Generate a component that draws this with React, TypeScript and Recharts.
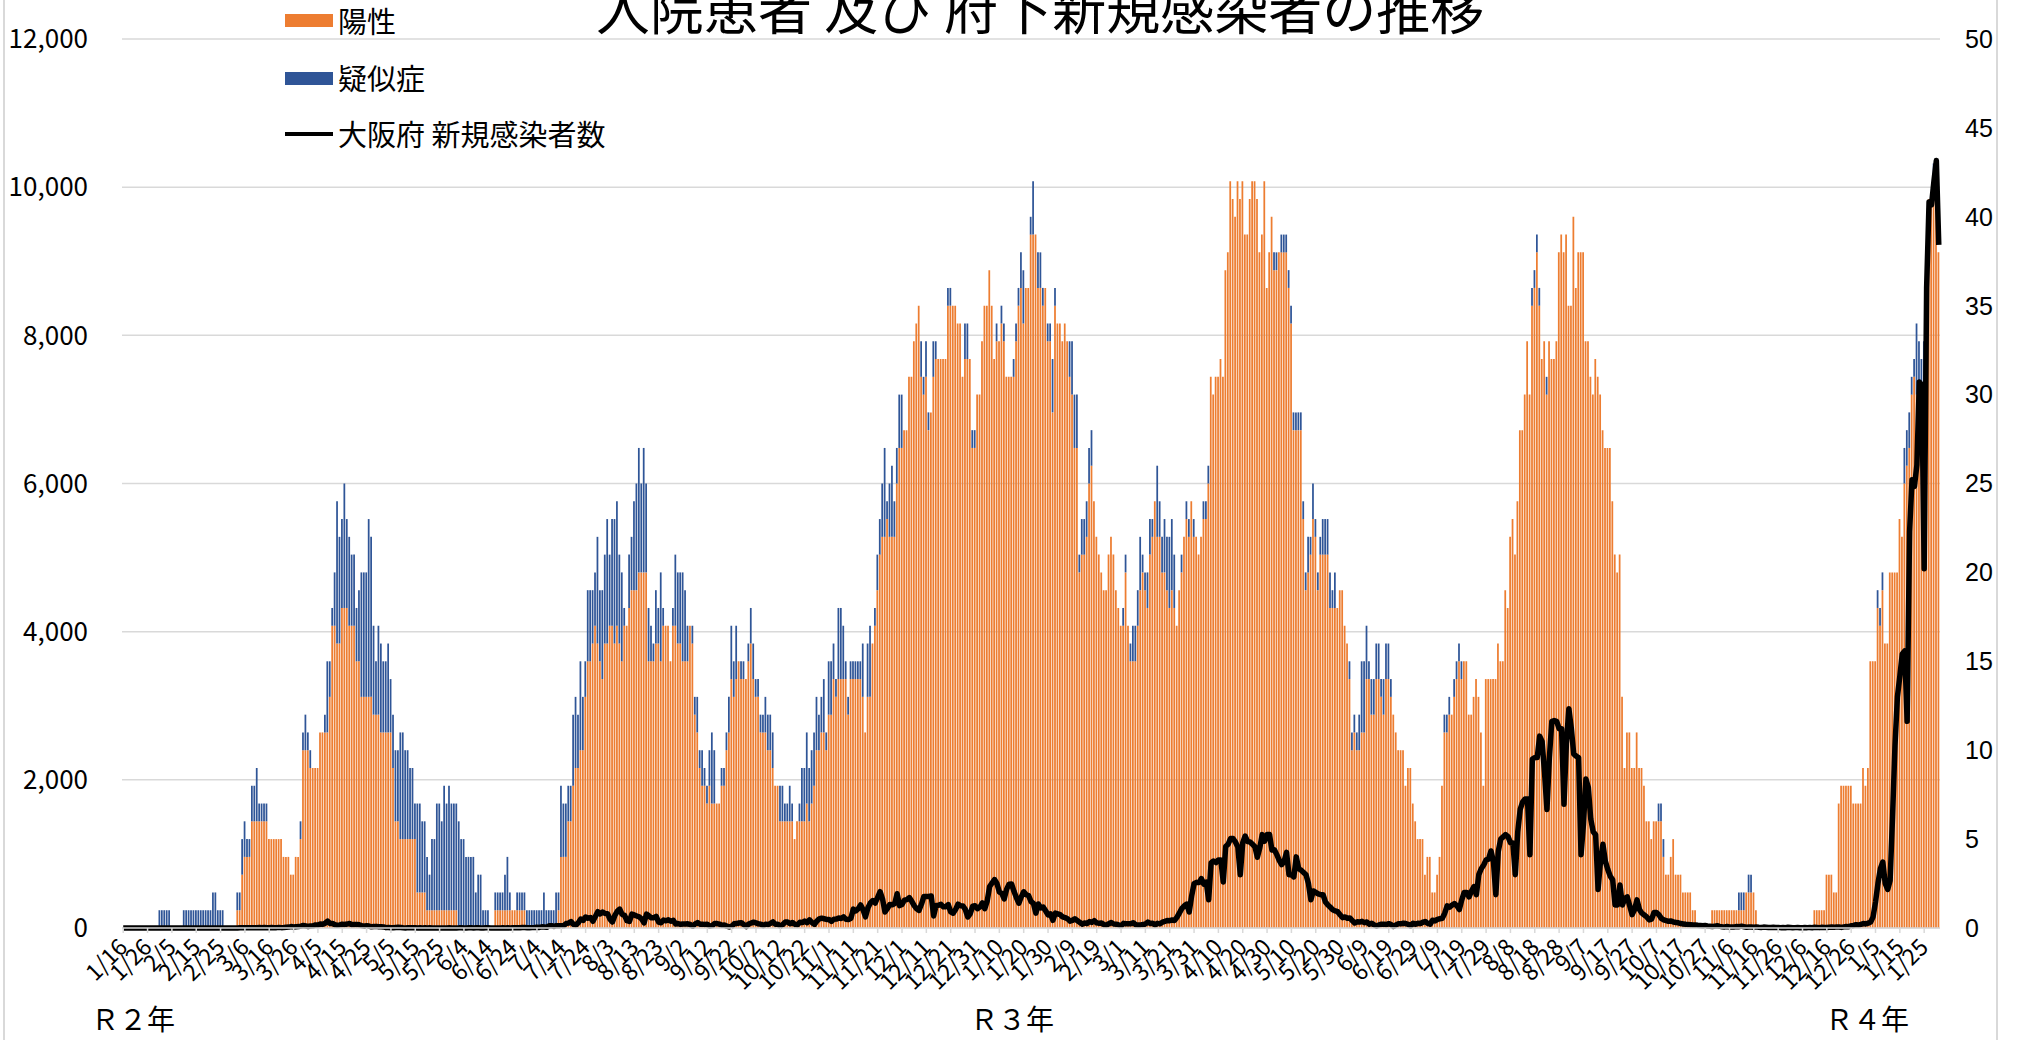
import { ComposedChart, Bar, Line, XAxis, YAxis, CartesianGrid } from "recharts";

const JP = '"Noto Sans CJK JP", "Noto Sans", sans-serif';

// x-axis labels, one every 10 days (R2 1/16 ... R4 1/25)
const TICK_LABELS = [
  "1/16", "1/26", "2/5", "2/15", "2/25", "3/6", "3/16", "3/26", "4/5", "4/15",
  "4/25", "5/5", "5/15", "5/25", "6/4", "6/14", "6/24", "7/4", "7/14", "7/24",
  "8/3", "8/13", "8/23", "9/2", "9/12", "9/22", "10/2", "10/12", "10/22", "11/1",
  "11/11", "11/21", "12/1", "12/11", "12/21", "12/31", "1/10", "1/20", "1/30", "2/9",
  "2/19", "3/1", "3/11", "3/21", "3/31", "4/10", "4/20", "4/30", "5/10", "5/20",
  "5/30", "6/9", "6/19", "6/29", "7/9", "7/19", "7/29", "8/8", "8/18", "8/28",
  "9/7", "9/17", "9/27", "10/7", "10/17", "10/27", "11/6", "11/16", "11/26", "12/6",
  "12/16", "12/26", "1/5", "1/15", "1/25",
];

const YEAR_LABELS = [
  { text: "Ｒ２年", left: 91 },
  { text: "Ｒ３年", left: 970 },
  { text: "Ｒ４年", left: 1825 },
];

const LEFT_TICKS = [0, 2000, 4000, 6000, 8000, 10000, 12000];
const RIGHT_TICKS = [0, 5, 10, 15, 20, 25, 30, 35, 40, 45, 50];

// 入院患者 陽性 (right axis), daily, 10 per row
const POSITIVE = [
  0, 0, 0, 0, 0, 0, 0, 0, 0, 0, // 1/16
  0, 0, 0, 0, 0, 0, 0, 0, 0, 0, // 1/26
  0, 0, 0, 0, 0, 0, 0, 0, 0, 0, // 2/5
  0, 0, 0, 0, 0, 0, 0, 0, 0, 0, // 2/15
  0, 0, 0, 0, 0, 0, 0, 1, 1, 3, // 2/25
  4, 4, 4, 6, 6, 6, 6, 6, 6, 6, // 3/6
  5, 5, 5, 5, 5, 5, 4, 4, 4, 3, // 3/16
  3, 4, 4, 5, 10, 10, 10, 9, 9, 9, // 3/26
  9, 11, 11, 11, 11, 13, 17, 17, 16, 16, // 4/5
  18, 18, 18, 17, 17, 17, 15, 15, 13, 13, // 4/15
  13, 13, 13, 12, 12, 12, 11, 11, 11, 11, // 4/25
  11, 9, 6, 6, 5, 5, 5, 5, 5, 5, // 5/5
  5, 2, 2, 2, 2, 1, 1, 1, 1, 1, // 5/15
  1, 1, 1, 1, 1, 1, 1, 1, 0, 0, // 5/25
  0, 0, 0, 0, 0, 0, 0, 0, 0, 0, // 6/4
  0, 0, 0, 1, 1, 1, 1, 1, 1, 1, // 6/14
  1, 1, 1, 1, 1, 1, 0, 0, 0, 0, // 6/24
  0, 0, 0, 0, 0, 0, 0, 0, 0, 1, // 7/4
  4, 4, 4, 6, 6, 8, 9, 9, 10, 10, // 7/14
  13, 15, 15, 16, 17, 16, 15, 14, 16, 16, // 7/24
  17, 17, 16, 17, 16, 15, 17, 17, 18, 19, // 8/3
  19, 19, 20, 20, 20, 20, 15, 15, 15, 16, // 8/13
  16, 15, 17, 17, 17, 15, 17, 17, 16, 16, // 8/23
  15, 15, 15, 17, 16, 12, 11, 9, 8, 8, // 9/2
  7, 8, 7, 7, 7, 7, 8, 8, 10, 11, // 9/12
  14, 13, 14, 15, 14, 14, 14, 15, 16, 14, // 9/22
  13, 13, 11, 11, 11, 10, 10, 9, 8, 8, // 10/2
  6, 6, 6, 6, 6, 6, 5, 6, 6, 6, // 10/12
  6, 7, 6, 7, 8, 10, 10, 11, 11, 10, // 10/22
  12, 12, 14, 13, 14, 14, 14, 14, 12, 14, // 11/1
  14, 14, 14, 14, 13, 11, 13, 13, 16, 17, // 11/11
  19, 21, 22, 22, 23, 22, 22, 22, 25, 27, // 11/21
  27, 28, 28, 31, 31, 33, 34, 35, 31, 30, // 12/1
  31, 28, 29, 31, 32, 32, 32, 32, 32, 35, // 12/11
  35, 35, 35, 34, 34, 31, 32, 32, 32, 27, // 12/21
  27, 30, 30, 33, 35, 35, 37, 35, 32, 33, // 12/31
  33, 34, 33, 31, 31, 31, 31, 33, 35, 36, // 1/10
  34, 36, 36, 39, 39, 39, 36, 36, 35, 36, // 1/20
  33, 33, 29, 35, 34, 34, 33, 34, 33, 31, // 1/30
  30, 27, 27, 20, 21, 21, 22, 25, 26, 24, // 2/9
  22, 21, 20, 19, 19, 21, 22, 21, 19, 18, // 2/19
  17, 17, 20, 17, 15, 15, 15, 17, 19, 20, // 3/1
  19, 18, 21, 22, 24, 22, 22, 20, 20, 19, // 3/11
  18, 19, 18, 17, 19, 20, 22, 23, 22, 24, // 3/21
  22, 22, 21, 22, 23, 23, 25, 31, 30, 31, // 3/31
  31, 32, 31, 37, 38, 42, 41, 40, 42, 41, // 4/10
  42, 39, 39, 41, 42, 42, 41, 38, 39, 42, // 4/20
  36, 38, 40, 37, 37, 38, 38, 38, 38, 36, // 4/30
  34, 28, 28, 28, 28, 23, 19, 20, 21, 23, // 5/10
  22, 19, 21, 21, 21, 21, 18, 18, 18, 18, // 5/20
  19, 19, 17, 16, 14, 10, 11, 10, 10, 11, // 5/30
  11, 14, 14, 12, 12, 14, 14, 13, 12, 14, // 6/9
  14, 13, 12, 11, 10, 10, 10, 8, 9, 9, // 6/19
  7, 6, 5, 5, 5, 3, 4, 4, 2, 2, // 6/29
  3, 4, 8, 11, 11, 12, 12, 13, 14, 15, // 7/9
  14, 15, 15, 12, 12, 13, 14, 13, 11, 8, // 7/19
  14, 14, 14, 14, 14, 16, 15, 15, 19, 18, // 7/29
  22, 23, 21, 24, 28, 28, 30, 33, 30, 35, // 8/8
  36, 38, 35, 32, 33, 30, 33, 32, 32, 33, // 8/18
  38, 39, 38, 39, 35, 35, 40, 36, 38, 38, // 8/28
  38, 33, 33, 31, 30, 32, 31, 30, 28, 27, // 9/7
  27, 27, 24, 21, 20, 21, 13, 9, 11, 11, // 9/17
  9, 9, 11, 9, 9, 8, 6, 6, 5, 6, // 9/27
  6, 6, 6, 4, 3, 3, 4, 5, 3, 3, // 10/7
  3, 2, 2, 2, 2, 1, 1, 0, 0, 0, // 10/17
  0, 0, 0, 1, 1, 1, 1, 1, 1, 1, // 10/27
  1, 1, 1, 1, 1, 1, 1, 2, 2, 2, // 11/6
  2, 1, 0, 0, 0, 0, 0, 0, 0, 0, // 11/16
  0, 0, 0, 0, 0, 0, 0, 0, 0, 0, // 11/26
  0, 0, 0, 0, 0, 1, 1, 1, 1, 1, // 12/6
  3, 3, 3, 2, 2, 7, 8, 8, 8, 8, // 12/16
  8, 7, 7, 7, 7, 9, 8, 9, 15, 15, // 12/26
  15, 18, 17, 19, 16, 16, 20, 20, 20, 20, // 1/5
  23, 22, 25, 26, 27, 30, 31, 30, 30, 30, // 1/15
  30, 36, 41, 41, 42, 41, 38, // 1/25
];

// 入院患者 疑似症 (right axis, stacked on 陽性)
const SUSPECTED = [
  0, 0, 0, 0, 0, 0, 0, 0, 0, 0, // 1/16
  0, 0, 0, 0, 0, 1, 1, 1, 1, 1, // 1/26
  0, 0, 0, 0, 0, 1, 1, 1, 1, 1, // 2/5
  1, 1, 1, 1, 1, 1, 1, 2, 2, 1, // 2/15
  1, 1, 0, 0, 0, 0, 0, 1, 1, 2, // 2/25
  2, 1, 1, 2, 2, 3, 1, 1, 1, 1, // 3/6
  0, 0, 0, 0, 0, 0, 0, 0, 0, 0, // 3/16
  0, 0, 0, 1, 1, 2, 1, 1, 0, 0, // 3/26
  0, 0, 0, 1, 4, 2, 1, 3, 8, 6, // 4/5
  5, 7, 5, 5, 4, 4, 3, 4, 7, 7, // 4/15
  7, 10, 9, 5, 3, 5, 5, 4, 4, 5, // 4/25
  3, 3, 4, 4, 6, 6, 5, 5, 4, 4, // 5/5
  2, 5, 5, 4, 4, 3, 2, 4, 4, 6, // 5/15
  6, 5, 7, 6, 7, 6, 6, 6, 6, 5, // 5/25
  5, 4, 4, 4, 4, 2, 3, 3, 1, 1, // 6/4
  1, 0, 0, 1, 1, 1, 1, 2, 3, 1, // 6/14
  0, 0, 1, 1, 1, 1, 1, 1, 1, 1, // 6/24
  1, 1, 1, 2, 1, 1, 1, 1, 2, 1, // 7/4
  4, 3, 3, 2, 2, 4, 4, 3, 5, 3, // 7/14
  2, 4, 4, 3, 3, 6, 4, 5, 5, 7, // 7/24
  4, 6, 7, 7, 5, 5, 1, 0, 3, 3, // 8/3
  5, 6, 7, 5, 7, 5, 3, 2, 1, 3, // 8/13
  2, 5, 1, 0, 0, 0, 1, 4, 4, 4, // 8/23
  5, 4, 2, 0, 1, 1, 2, 1, 2, 1, // 9/2
  1, 2, 4, 3, 0, 0, 1, 1, 1, 2, // 9/12
  3, 2, 3, 0, 1, 1, 0, 1, 2, 2, // 9/22
  1, 1, 1, 1, 2, 2, 2, 2, 0, 0, // 10/2
  2, 2, 1, 1, 2, 1, 0, 0, 1, 3, // 10/12
  3, 4, 3, 3, 3, 3, 2, 2, 3, 1, // 10/22
  3, 3, 2, 1, 4, 4, 3, 1, 1, 1, // 11/1
  1, 1, 1, 1, 3, 0, 3, 4, 0, 1, // 11/11
  2, 2, 3, 5, 1, 3, 4, 2, 2, 3, // 11/21
  3, 0, 0, 0, 0, 0, 0, 0, 2, 1, // 12/1
  2, 1, 0, 2, 1, 0, 0, 0, 0, 1, // 12/11
  1, 0, 0, 0, 0, 0, 2, 2, 0, 1, // 12/21
  1, 0, 0, 0, 0, 0, 0, 0, 0, 1, // 12/31
  0, 1, 1, 0, 0, 0, 1, 1, 1, 2, // 1/10
  3, 0, 0, 1, 3, 0, 2, 2, 1, 0, // 1/20
  1, 1, 3, 1, 0, 0, 0, 0, 0, 2, // 1/30
  3, 3, 3, 1, 2, 2, 2, 2, 2, 0, // 2/9
  0, 0, 0, 0, 0, 0, 0, 0, 0, 0, // 2/19
  0, 1, 1, 0, 1, 2, 2, 2, 3, 1, // 3/1
  1, 2, 2, 1, 0, 4, 2, 2, 3, 3, // 3/11
  4, 4, 3, 0, 0, 1, 0, 1, 1, 0, // 3/21
  1, 0, 0, 0, 1, 1, 1, 0, 0, 0, // 3/31
  0, 0, 0, 0, 0, 0, 0, 0, 0, 0, // 4/10
  0, 0, 0, 0, 0, 0, 0, 0, 0, 0, // 4/20
  0, 0, 0, 1, 1, 0, 1, 1, 1, 1, // 4/30
  1, 1, 1, 1, 1, 1, 1, 2, 1, 2, // 5/10
  1, 1, 1, 2, 2, 2, 2, 1, 2, 0, // 5/20
  0, 0, 0, 0, 1, 1, 1, 1, 2, 4, // 5/30
  4, 3, 1, 2, 2, 2, 2, 1, 2, 2, // 6/9
  2, 1, 0, 0, 0, 0, 0, 0, 0, 0, // 6/19
  0, 0, 0, 0, 0, 0, 0, 0, 0, 0, // 6/29
  0, 0, 0, 1, 1, 1, 0, 1, 1, 1, // 7/9
  1, 0, 0, 0, 0, 0, 0, 0, 0, 0, // 7/19
  0, 0, 0, 0, 0, 0, 0, 0, 0, 0, // 7/29
  0, 0, 0, 0, 0, 0, 0, 0, 0, 1, // 8/8
  1, 1, 1, 0, 0, 1, 0, 0, 0, 0, // 8/18
  0, 0, 0, 0, 0, 0, 0, 0, 0, 0, // 8/28
  0, 0, 0, 0, 0, 0, 0, 0, 0, 0, // 9/7
  0, 0, 0, 0, 0, 0, 0, 0, 0, 0, // 9/17
  0, 0, 0, 0, 0, 0, 0, 0, 0, 0, // 9/27
  0, 1, 1, 1, 0, 0, 0, 0, 0, 0, // 10/7
  0, 0, 0, 0, 0, 0, 0, 0, 0, 0, // 10/17
  0, 0, 0, 0, 0, 0, 0, 0, 0, 0, // 10/27
  0, 0, 0, 0, 1, 1, 1, 0, 1, 1, // 11/6
  0, 0, 0, 0, 0, 0, 0, 0, 0, 0, // 11/16
  0, 0, 0, 0, 0, 0, 0, 0, 0, 0, // 11/26
  0, 0, 0, 0, 0, 0, 0, 0, 0, 0, // 12/6
  0, 0, 0, 0, 0, 0, 0, 0, 0, 0, // 12/16
  0, 0, 0, 0, 0, 0, 0, 0, 0, 0, // 12/26
  0, 1, 1, 1, 0, 0, 0, 0, 0, 0, // 1/5
  0, 0, 2, 2, 2, 1, 1, 4, 3, 2, // 1/15
  3, 0, 0, 0, 1, 1, 0, // 1/25
];

// 大阪府 新規感染者数 (left axis)
const NEW_CASES = [
  0, 0, 0, 0, 0, 0, 0, 0, 0, 0, // 1/16
  0, 0, 0, 1, 0, 0, 0, 0, 0, 0, // 1/26
  0, 0, 0, 0, 0, 0, 0, 0, 0, 0, // 2/5
  0, 0, 0, 0, 0, 0, 0, 0, 0, 0, // 2/15
  0, 0, 0, 0, 0, 0, 1, 0, 2, 3, // 2/25
  5, 4, 3, 2, 3, 3, 6, 3, 7, 4, // 3/6
  3, 6, 4, 5, 8, 5, 6, 9, 12, 19, // 3/16
  14, 18, 19, 25, 34, 28, 20, 28, 30, 41, // 3/26
  39, 54, 50, 65, 92, 60, 62, 44, 36, 42, // 4/5
  51, 47, 53, 60, 43, 48, 48, 44, 33, 24, // 4/15
  30, 26, 16, 19, 22, 17, 17, 14, 5, 8, // 4/25
  4, 4, 8, 10, 7, 3, 1, 5, 2, 5, // 5/5
  3, 0, 2, 1, 3, 0, 2, 1, 0, 1, // 5/15
  0, 1, 1, 0, 3, 0, 0, 1, 2, 4, // 5/25
  1, 0, 2, 3, 1, 2, 2, 1, 0, 3, // 6/4
  2, 1, 0, 1, 0, 1, 2, 1, 3, 0, // 6/14
  2, 3, 5, 2, 6, 7, 4, 3, 5, 7, // 6/24
  10, 8, 16, 14, 9, 30, 32, 21, 32, 29, // 7/4
  31, 33, 61, 66, 86, 49, 40, 72, 121, 104, // 7/14
  149, 132, 141, 91, 155, 221, 190, 216, 195, 194, // 7/24
  120, 81, 169, 225, 255, 183, 170, 98, 88, 187, // 8/3
  177, 162, 150, 123, 69, 187, 165, 138, 139, 157, // 8/13
  80, 71, 108, 97, 111, 91, 104, 54, 60, 50, // 8/23
  55, 54, 56, 47, 24, 56, 73, 51, 52, 46, // 9/2
  51, 28, 32, 62, 60, 52, 38, 40, 24, 14, // 9/12
  23, 56, 60, 68, 72, 46, 20, 54, 67, 78, // 9/22
  69, 56, 52, 32, 52, 45, 62, 82, 49, 49, // 10/2
  26, 47, 80, 80, 58, 74, 48, 42, 77, 73, // 10/12
  93, 72, 110, 74, 48, 94, 122, 133, 125, 116, // 10/22
  115, 89, 118, 120, 134, 129, 150, 117, 114, 131, // 11/1
  256, 230, 260, 311, 245, 150, 273, 338, 370, 338, // 11/11
  415, 490, 390, 217, 263, 318, 313, 330, 463, 302, // 11/21
  318, 375, 384, 410, 360, 302, 260, 238, 323, 426, // 12/1
  425, 426, 433, 163, 303, 306, 320, 286, 288, 316, // 12/11
  217, 200, 249, 322, 300, 298, 252, 148, 192, 293, // 12/21
  300, 262, 283, 340, 260, 363, 560, 607, 654, 601, // 12/31
  485, 468, 392, 525, 592, 595, 495, 410, 334, 420, // 1/10
  489, 451, 439, 358, 333, 200, 324, 271, 282, 233, // 1/20
  177, 190, 104, 200, 190, 180, 150, 140, 126, 92, // 1/30
  103, 125, 99, 78, 52, 67, 62, 86, 76, 99, // 2/9
  69, 64, 66, 45, 40, 57, 74, 54, 52, 41, // 2/19
  29, 63, 57, 58, 56, 71, 44, 40, 42, 46, // 3/1
  54, 81, 60, 65, 40, 63, 56, 79, 89, 101, // 3/11
  99, 108, 102, 146, 205, 265, 300, 323, 216, 432, // 3/21
  599, 616, 613, 666, 593, 620, 380, 878, 905, 883, // 3/31
  918, 918, 620, 1099, 1130, 1208, 1209, 1161, 1092, 719, // 4/10
  1153, 1242, 1167, 1162, 1130, 1097, 955, 1079, 1260, 1172, // 4/20
  1262, 1262, 1052, 1057, 990, 914, 855, 900, 1021, 720, // 4/30
  720, 690, 960, 800, 780, 750, 720, 600, 380, 500, // 5/10
  480, 460, 450, 450, 350, 310, 280, 245, 230, 220, // 5/20
  180, 140, 150, 132, 136, 100, 67, 83, 80, 90, // 5/30
  72, 81, 49, 64, 43, 25, 43, 52, 51, 47, // 6/9
  58, 46, 21, 42, 59, 56, 65, 60, 50, 29, // 6/19
  65, 50, 65, 60, 78, 87, 62, 51, 105, 96, // 6/29
  117, 125, 132, 200, 300, 280, 310, 330, 300, 250, // 7/9
  380, 480, 480, 420, 500, 560, 450, 720, 800, 850, // 7/19
  920, 930, 1040, 900, 450, 1034, 1200, 1230, 1260, 1233, // 7/29
  1152, 1148, 720, 1300, 1600, 1700, 1740, 1740, 990, 2280, // 8/8
  2300, 2300, 2590, 2520, 2100, 1600, 2300, 2790, 2800, 2790, // 8/18
  2690, 2690, 1670, 2500, 2960, 2700, 2350, 2320, 2300, 990, // 8/28
  1400, 2010, 1900, 1470, 1300, 1260, 520, 900, 1130, 900, // 9/7
  790, 700, 650, 310, 310, 580, 310, 400, 420, 300, // 9/17
  180, 250, 380, 250, 200, 175, 150, 110, 120, 210, // 9/27
  210, 180, 130, 110, 100, 90, 95, 80, 75, 70, // 10/7
  60, 55, 50, 48, 45, 40, 42, 38, 35, 30, // 10/17
  33, 28, 24, 20, 25, 30, 22, 18, 15, 20, // 10/27
  14, 12, 15, 20, 18, 25, 16, 10, 12, 14, // 11/6
  11, 15, 10, 8, 12, 9, 6, 8, 9, 7, // 11/16
  8, 5, 6, 4, 9, 6, 3, 5, 8, 4, // 11/26
  3, 6, 5, 7, 4, 10, 8, 5, 9, 7, // 12/6
  6, 10, 12, 9, 15, 14, 8, 15, 20, 18, // 12/16
  30, 35, 45, 40, 50, 60, 55, 65, 80, 150, // 12/26
  350, 600, 800, 890, 600, 520, 640, 1500, 2460, 3120, // 1/5
  3400, 3700, 3740, 2790, 5350, 6050, 5960, 6250, 7370, 7330, // 1/15
  4850, 8640, 9800, 9760, 10080, 10360, 9220, // 1/25
];

const chartData = POSITIVE.map((p, i) => ({
  day: i,
  pos: p,
  sus: SUSPECTED[i],
  cases: NEW_CASES[i],
}));

function DateTick({ x, y, payload }: any) {
  const label = TICK_LABELS[Math.round(payload.value / 10)] ?? "";
  return (
    <text
      x={x}
      y={y}
      transform={`rotate(-45 ${x} ${y})`}
      textAnchor="end"
      dy="0.35em"
      fontSize={23}
      fontFamily={JP}
      fill="#000"
    >
      {label}
    </text>
  );
}

export default function App() {
  return (
    <div
      style={{
        position: "absolute",
        left: 0,
        top: 0,
        width: 2022,
        height: 1040,
        overflow: "hidden",
        background: "#fff",
        fontFamily: JP,
        color: "#000",
      }}
    >
      {/* chart area border */}
      <div
        style={{
          position: "absolute",
          left: 3,
          top: -10,
          width: 1995,
          height: 1070,
          borderLeft: "2px solid #D9D9D9",
          borderRight: "2px solid #D9D9D9",
          boxSizing: "border-box",
        }}
      />

      <div style={{ position: "absolute", left: 0, top: 0 }}>
        <ComposedChart
          width={2022}
          height={1040}
          data={chartData}
          margin={{ top: 39, right: 0, bottom: 0, left: 0 }}
        >
          <CartesianGrid yAxisId="left" vertical={false} stroke="#D9D9D9" strokeWidth={1.5} />
          <XAxis
            dataKey="day"
            interval={9}
            height={112}
            tick={<DateTick />}
            tickSize={5}
            tickMargin={10}
            tickLine={{ stroke: "#D9D9D9", strokeWidth: 1.5 }}
            axisLine={{ stroke: "#D9D9D9", strokeWidth: 1.5 }}
          />
          <YAxis
            yAxisId="left"
            width={122}
            domain={[0, 12000]}
            ticks={LEFT_TICKS}
            tickFormatter={(v: number) => v.toLocaleString("en-US")}
            tick={{ fontSize: 26, fontFamily: JP, fill: "#000" }}
            tickSize={0}
            tickMargin={34}
            axisLine={false}
            tickLine={false}
          />
          <YAxis
            yAxisId="right"
            orientation="right"
            width={82}
            domain={[0, 50]}
            ticks={RIGHT_TICKS}
            tick={{ fontSize: 25, fontFamily: '"Liberation Sans", Arial, sans-serif', fill: "#000" }}
            tickSize={0}
            tickMargin={25}
            axisLine={false}
            tickLine={false}
          />
          <Bar
            yAxisId="right"
            dataKey="pos"
            stackId="s"
            fill="#ED7D31"
            barSize={1.75}
            isAnimationActive={false}
          />
          <Bar
            yAxisId="right"
            dataKey="sus"
            stackId="s"
            fill="#2F5597"
            barSize={1.75}
            isAnimationActive={false}
          />
          <Line
            yAxisId="left"
            type="linear"
            dataKey="cases"
            stroke="#000"
            strokeWidth={5.5}
            strokeLinejoin="round"
            dot={false}
            activeDot={false}
            isAnimationActive={false}
          />
        </ComposedChart>
      </div>

      {/* title (its top is cut off in the original too) */}
      <div
        style={{
          position: "absolute",
          left: 596,
          top: -20,
          fontSize: 54,
          lineHeight: "54px",
          whiteSpace: "nowrap",
        }}
      >
        入院患者 及び 府下新規感染者の推移
      </div>

      {/* legend */}
      <div style={{ position: "absolute", left: 285, top: 14, width: 48, height: 13, background: "#ED7D31" }} />
      <div style={{ position: "absolute", left: 338, top: 6, fontSize: 29, lineHeight: "29px", whiteSpace: "nowrap" }}>陽性</div>
      <div style={{ position: "absolute", left: 285, top: 72, width: 48, height: 13, background: "#2F5597" }} />
      <div style={{ position: "absolute", left: 338, top: 63, fontSize: 29, lineHeight: "29px", whiteSpace: "nowrap" }}>疑似症</div>
      <div style={{ position: "absolute", left: 285, top: 132, width: 48, height: 4, background: "#000" }} />
      <div style={{ position: "absolute", left: 338, top: 119, fontSize: 29, lineHeight: "29px", whiteSpace: "nowrap" }}>
        大阪府 新規感染者数
      </div>

      {/* year labels under the axis */}
      {YEAR_LABELS.map((y) => (
        <div
          key={y.text}
          style={{
            position: "absolute",
            left: y.left,
            top: 1004,
            fontSize: 28,
            lineHeight: "28px",
            whiteSpace: "nowrap",
          }}
        >
          {y.text}
        </div>
      ))}
    </div>
  );
}
